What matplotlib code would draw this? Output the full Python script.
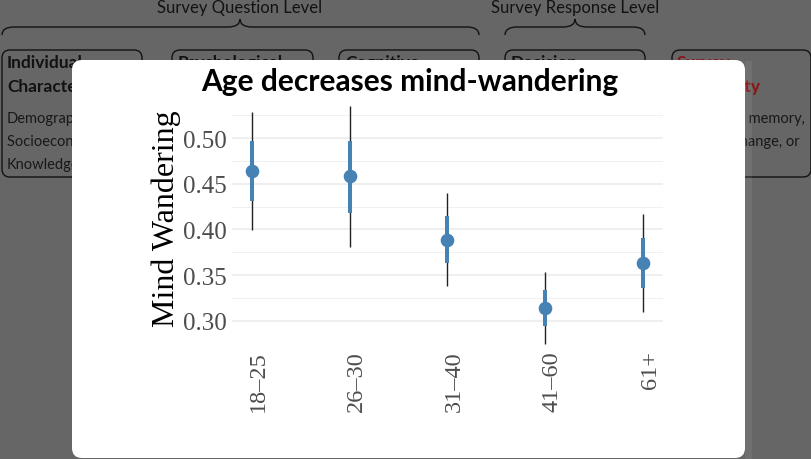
import matplotlib
matplotlib.use("Agg")
import matplotlib.pyplot as plt
import matplotlib.transforms as mtransforms
from matplotlib.patches import FancyBboxPatch, Rectangle, PathPatch
from matplotlib.path import Path

# Estimated mind-wandering by age group (point, 66% and 95% intervals)
age_groups = ["18–25", "26–30", "31–40", "41–60", "61+"]
estimate = [0.4645, 0.4584, 0.3888, 0.3143, 0.3629]
inner_low = [0.4316, 0.4181, 0.3633, 0.2945, 0.3355]
inner_high = [0.4974, 0.4974, 0.4151, 0.3337, 0.3903]
outer_low = [0.3995, 0.3805, 0.3377, 0.2745, 0.3092]
outer_high = [0.5285, 0.5357, 0.4397, 0.3534, 0.4170]

y_ticks = [0.30, 0.35, 0.40, 0.45, 0.50]
y_tick_labels = ["0.30", "0.35", "0.40", "0.45", "0.50"]
y_minor = [0.325, 0.375, 0.425, 0.475, 0.525]

W, H = 812, 460
fig = plt.figure(figsize=(W / 100, H / 100), dpi=100)
fig.patch.set_facecolor("#666666")

# ---- dimmed framework diagram behind the dialog (pixel coordinates) ----
bg = fig.add_axes([0, 0, 1, 1])
bg.set_xlim(0, W)
bg.set_ylim(H, 0)
bg.axis("off")

dark = "#121212"
sans = "Lato"


def brace(x0, x1, xm, ytip, ymid, yend, r=12):
    verts = [(x0, yend), (x0, ymid), (x0 + r, ymid),
             (xm - r, ymid), (xm, ymid), (xm, ytip),
             (xm, ymid), (xm + r, ymid),
             (x1 - r, ymid), (x1, ymid), (x1, yend)]
    codes = [Path.MOVETO, Path.CURVE3, Path.CURVE3,
             Path.LINETO, Path.CURVE3, Path.CURVE3,
             Path.CURVE3, Path.CURVE3,
             Path.LINETO, Path.CURVE3, Path.CURVE3]
    bg.add_patch(PathPatch(Path(verts, codes), fc="none", ec=dark, lw=1.0))


bg.text(240, 8, "Survey Question Level", ha="center", va="center",
        fontsize=12, family=sans, color=dark)
bg.text(575, 8, "Survey Response Level", ha="center", va="center",
        fontsize=12, family=sans, color=dark)
brace(2, 479, 240, 20, 28, 36)
brace(505, 645, 575, 20, 28, 36)

boxes = [(2, 142), (172, 313), (339, 479), (505, 645), (672, 811)]
for x0, x1 in boxes:
    bg.add_patch(FancyBboxPatch((x0, 51), x1 - x0, 127,
                                boxstyle="round,pad=0,rounding_size=8",
                                fc="none", ec=dark, lw=1.0))

box_titles = ["Psychological", "Cognitive", "Decision"]
for (x0, _), t1 in zip(boxes[1:4], box_titles):
    bg.text(x0 + 6, 63, t1, ha="left", va="center", fontsize=12.5,
            fontweight="bold", family=sans, color=dark)

bg.text(7, 63, "Individual", ha="left", va="center", fontsize=12.5,
        fontweight="bold", family=sans, color=dark)
bg.text(7, 87, "Characteristics", ha="left", va="center", fontsize=12.5,
        fontweight="bold", family=sans, color=dark)
for yy, line in zip([119, 142, 165],
                    ["Demographics,", "Socioeconomic status,", "Knowledge"]):
    bg.text(7, yy, line, ha="left", va="center", fontsize=10.5,
            family=sans, color="#181818")

red = "#8a1414"
bg.text(677, 63, "Survey", ha="left", va="center", fontsize=12.5,
        fontweight="bold", family=sans, color=red)
bg.text(761, 87, "Reliability", ha="right", va="center", fontsize=12.5,
        fontweight="bold", family=sans, color=red)
bg.text(805, 119, "Attention, memory,", ha="right", va="center",
        fontsize=10.5, family=sans, color="#181818")
bg.text(800, 142, "mood change, or", ha="right", va="center",
        fontsize=10.5, family=sans, color="#181818")

# ---- dialog card ----
bg.add_patch(FancyBboxPatch((72, 61), 673, 398,
                            boxstyle="round,pad=0,rounding_size=10",
                            fc="white", ec="none", zorder=5))
bg.add_patch(Rectangle((745, 62), 7, 398, fc="white", alpha=0.07,
                       ec="none", zorder=5))

fig.text(409.5 / W, 1 - 82 / H, "Age decreases mind-wandering",
         ha="center", va="center", fontsize=21.5, fontweight="bold",
         family=sans, color="black")

# ---- interval plot ----
y_lo, y_hi = 0.272, 0.545
px_per_unit = 912.0
top_px = 321.7 - (y_hi - 0.30) * px_per_unit
bot_px = 321.7 + (0.30 - y_lo) * px_per_unit
ax = fig.add_axes([232 / W, 1 - bot_px / H, (663 - 232) / W,
                   (bot_px - top_px) / H])
ax.patch.set_alpha(0)
for s in ax.spines.values():
    s.set_visible(False)

xpos = list(range(1, len(age_groups) + 1))
ax.vlines(xpos, outer_low, outer_high, color="#222222", lw=1.0, zorder=3)
ax.vlines(xpos, inner_low, inner_high, color="#4682B4", lw=2.9, zorder=4)
ax.plot(xpos, estimate, "o", ms=8.8, color="#4682B4", mec="#4682B4", zorder=5)

ax.set_xlim(0.8, 5.2)
ax.set_ylim(y_lo, y_hi)
ax.set_yticks(y_ticks)
ax.set_yticklabels(y_tick_labels)
ax.set_yticks(y_minor, minor=True)
ax.grid(axis="y", which="major", color="#ebebeb", lw=1.1, zorder=0)
ax.grid(axis="y", which="minor", color="#f0f0f0", lw=0.7, zorder=0)
ax.set_xticks(xpos)
ax.set_xticklabels(age_groups, rotation=90)
ax.tick_params(axis="both", which="both", length=0)
ax.tick_params(axis="y", pad=4, labelsize=18, labelcolor="#4d4d4d")
ax.tick_params(axis="x", pad=3, labelsize=17.5, labelcolor="#4d4d4d")
for lab in ax.get_yticklabels() + ax.get_xticklabels():
    lab.set_family("Liberation Serif")
shift = mtransforms.ScaledTranslation(7 / 100, 0, fig.dpi_scale_trans)
for lab in ax.get_xticklabels():
    lab.set_transform(lab.get_transform() + shift)

fig.text(166 / W, 1 - 219 / H, "Mind Wandering", rotation=90,
         ha="center", va="center", fontsize=23, family="Liberation Serif",
         color="black")

fig.savefig("out.png", dpi=100, facecolor=fig.get_facecolor())
